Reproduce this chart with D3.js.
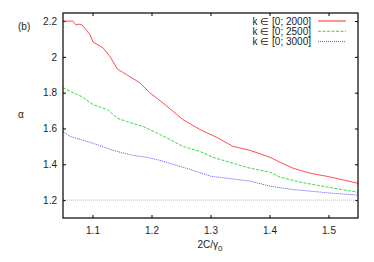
<!DOCTYPE html>
<html>
<head>
<meta charset="utf-8">
<script src="https://cdn.jsdelivr.net/npm/d3@7"></script>
<style>
  body { margin: 0; background: #fff; }
  text { font-family: "Liberation Sans", Arial, sans-serif; font-size: 10px; fill: #222; }
</style>
</head>
<body>
<script>
var width = 374,
    height = 262,
    margin = {top: 13, right: 16, bottom: 44, left: 63};

// data: [2C/gamma0, alpha]
var red = [
  [1.05, 2.2], [1.067, 2.2], [1.072, 2.178], [1.077, 2.183], [1.082, 2.178],
  [1.087, 2.161], [1.096, 2.122], [1.101, 2.083], [1.118, 2.05], [1.130, 2.0],
  [1.142, 1.933], [1.158, 1.9], [1.180, 1.856], [1.197, 1.8], [1.219, 1.744],
  [1.243, 1.678], [1.253, 1.65], [1.282, 1.594], [1.311, 1.55], [1.338, 1.5],
  [1.367, 1.478], [1.401, 1.439], [1.418, 1.411], [1.44, 1.378], [1.469, 1.35],
  [1.497, 1.333], [1.519, 1.317], [1.55, 1.294]
];
var green = [
  [1.05, 1.828], [1.067, 1.8], [1.082, 1.778], [1.101, 1.733], [1.125, 1.706],
  [1.143, 1.656], [1.158, 1.639], [1.186, 1.611], [1.214, 1.567], [1.231, 1.539],
  [1.253, 1.5], [1.282, 1.472], [1.304, 1.439], [1.367, 1.378], [1.401, 1.356],
  [1.418, 1.328], [1.452, 1.3], [1.481, 1.283], [1.508, 1.267], [1.55, 1.244]
];
var blue = [
  [1.05, 1.583], [1.062, 1.556], [1.079, 1.539], [1.101, 1.517], [1.130, 1.483],
  [1.147, 1.467], [1.169, 1.45], [1.192, 1.439], [1.214, 1.422], [1.265, 1.372],
  [1.301, 1.333], [1.367, 1.306], [1.401, 1.278], [1.435, 1.261], [1.503, 1.239],
  [1.55, 1.228]
];
var limit = [[1.05, 1.2], [1.55, 1.2]];

var xTicks = [1.1, 1.2, 1.3, 1.4, 1.5],
    yTicks = [1.2, 1.4, 1.6, 1.8, 2, 2.2];

var series = [
  {label: 'k \u2208 [0; 2000]', values: red, color: '#ff4d4d', dash: null},
  {label: 'k \u2208 [0; 2500]', values: green, color: '#33dd33', dash: '3,1.5'},
  {label: 'k \u2208 [0; 3000]', values: blue, color: '#5555ff', dash: '1,1'}
];

var svg = d3.select('body').append('svg')
    .attr('width', width)
    .attr('height', height);

var w = width - margin.left - margin.right,
    h = height - margin.top - margin.bottom;

var x = d3.scaleLinear().domain([1.05, 1.55]).range([margin.left, margin.left + w]),
    y = d3.scaleLinear().domain([1.1, 2.245]).range([margin.top + h, margin.top]);

var line = d3.line()
    .x(function(d) { return x(d[0]); })
    .y(function(d) { return y(d[1]); });

// ticks, mirrored on all four sides, pointing inward
var tickLen = 3;
svg.append('g').call(d3.axisBottom(x).tickValues(xTicks).tickSize(-tickLen).tickPadding(9).tickFormat(d3.format('.1f')))
    .attr('transform', 'translate(0,' + (margin.top + h) + ')');
svg.append('g').call(d3.axisTop(x).tickValues(xTicks).tickSize(-tickLen).tickFormat(''))
    .attr('transform', 'translate(0,' + margin.top + ')');
svg.append('g').call(d3.axisLeft(y).tickValues(yTicks).tickSize(-tickLen).tickPadding(6).tickFormat(d3.format('~g')))
    .attr('transform', 'translate(' + margin.left + ',0)');
svg.append('g').call(d3.axisRight(y).tickValues(yTicks).tickSize(-tickLen).tickFormat(''))
    .attr('transform', 'translate(' + (margin.left + w) + ',0)');

svg.selectAll('.domain').remove();
svg.selectAll('.tick line').attr('stroke', '#000');
svg.selectAll('.tick text')
    .style('font-family', '"Liberation Sans", Arial, sans-serif')
    .style('font-size', '10px')
    .attr('fill', '#222');

var plot = svg.append('g');

plot.append('path')
    .attr('d', line(limit))
    .attr('fill', 'none')
    .attr('stroke', '#aaa')
    .attr('stroke-width', 0.8)
    .attr('stroke-dasharray', '1,1');

plot.selectAll('path.series')
    .data(series)
    .enter().append('path')
    .attr('class', 'series')
    .attr('d', function(d) { return line(d.values); })
    .attr('fill', 'none')
    .attr('stroke', function(d) { return d.color; })
    .attr('stroke-width', 1)
    .attr('stroke-dasharray', function(d) { return d.dash; });

// frame
svg.append('rect')
    .attr('x', margin.left)
    .attr('y', margin.top)
    .attr('width', w)
    .attr('height', h)
    .attr('fill', 'none')
    .attr('stroke', '#000')
    .attr('stroke-width', 1.2);

// legend
var legend = svg.append('g').selectAll('g')
    .data(series)
    .enter().append('g')
    .attr('transform', function(d, i) { return 'translate(0,' + (21 + i * 10.3) + ')'; });

legend.append('text')
    .attr('x', 311)
    .attr('dy', '0.35em')
    .attr('text-anchor', 'end')
    .text(function(d) { return d.label; });

legend.append('line')
    .attr('x1', 318)
    .attr('x2', 346)
    .attr('stroke', function(d) { return d.color; })
    .attr('stroke-width', function(d, i) { return i === 0 ? 1.2 : 1; })
    .attr('stroke-dasharray', function(d) { return d.dash; });

// labels
svg.append('text')
    .attr('x', 18)
    .attr('y', 30)
    .text('(b)');

svg.append('text')
    .attr('x', 21)
    .attr('y', 118)
    .attr('text-anchor', 'middle')
    .text('\u03b1');

var xl = svg.append('text')
    .attr('x', 210)
    .attr('y', 248)
    .attr('text-anchor', 'middle');
xl.append('tspan').text('2C/\u03b3');
xl.append('tspan').attr('dy', 3).style('font-size', '8px').text('0');
</script>
</body>
</html>
